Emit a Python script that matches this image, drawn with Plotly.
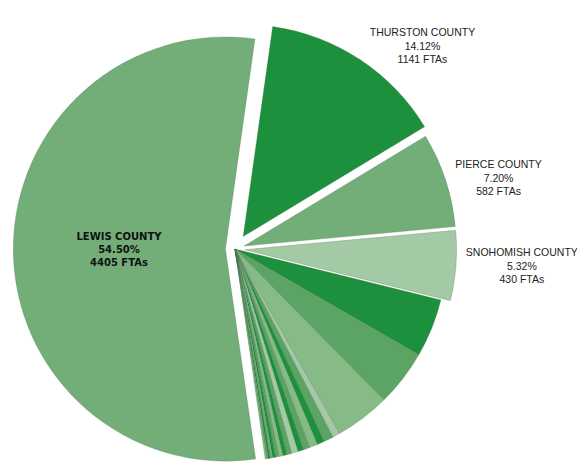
import plotly.graph_objects as go

# FTAs by county (slice order is clockwise starting near 12 o'clock)
counties = [
    "THURSTON COUNTY", "PIERCE COUNTY", "SNOHOMISH COUNTY",
    "KING COUNTY", "COWLITZ COUNTY", "GRAYS HARBOR COUNTY", "MASON COUNTY",
    "CLARK COUNTY", "KITSAP COUNTY", "SPOKANE COUNTY", "YAKIMA COUNTY",
    "PACIFIC COUNTY", "WHATCOM COUNTY", "SKAGIT COUNTY", "CHELAN COUNTY",
    "BENTON COUNTY", "ISLAND COUNTY", "JEFFERSON COUNTY", "CLALLAM COUNTY",
    "WAHKIAKUM COUNTY", "SKAMANIA COUNTY", "KLICKITAT COUNTY",
    "LEWIS COUNTY",
]
ftas = [
    1141, 582, 430,
    360, 348, 338, 45,
    60, 45, 50, 40,
    35, 40, 30, 25,
    25, 20, 18, 15,
    12, 10, 9,
    4405,
]
labeled = ["THURSTON COUNTY", "PIERCE COUNTY", "SNOHOMISH COUNTY", "LEWIS COUNTY"]

dark, mid, light, pale, base = "#1c903d", "#5ba463", "#86bb88", "#a4c9a5", "#73ae78"
colors = [
    dark, base, pale,
    dark, mid, light, pale,
    mid, dark, light, mid,
    dark, pale, mid, dark,
    light, mid, dark, base,
    dark, mid, light,
    base,
]
pulls = {"THURSTON COUNTY": 0.07, "PIERCE COUNTY": 0.045,
         "SNOHOMISH COUNTY": 0.045, "LEWIS COUNTY": 0.045}

total = sum(ftas)
texts, positions = [], []
for name, v in zip(counties, ftas):
    if name in labeled:
        t = f"{name}<br>{v / total * 100:.2f}%<br>{v} FTAs"
        if name == "LEWIS COUNTY":
            t = f"<b>{t}</b>"
            positions.append("inside")
        else:
            positions.append("outside")
        texts.append(t)
    else:
        texts.append("")
        positions.append("none")

fig = go.Figure(go.Pie(
    labels=counties,
    values=ftas,
    text=texts,
    textinfo="text",
    textposition=positions,
    insidetextorientation="horizontal",
    sort=False,
    direction="clockwise",
    rotation=8,
    pull=[pulls.get(n, 0) for n in counties],
    marker=dict(colors=colors, line=dict(color="rgba(70,110,75,0.5)", width=0.5)),
    insidetextfont=dict(family="DejaVu Sans", size=10, color="#111111"),
    outsidetextfont=dict(family="Liberation Sans, Arial", size=10.5, color="#222222"),
    domain=dict(x=[0.0, 0.776], y=[0, 1]),
    showlegend=False,
    automargin=False,
))

fig.update_layout(
    width=585, height=468,
    margin=dict(l=0, r=0, t=14, b=0),
    paper_bgcolor="white",
    plot_bgcolor="white",
)

fig.write_html("out.html")
